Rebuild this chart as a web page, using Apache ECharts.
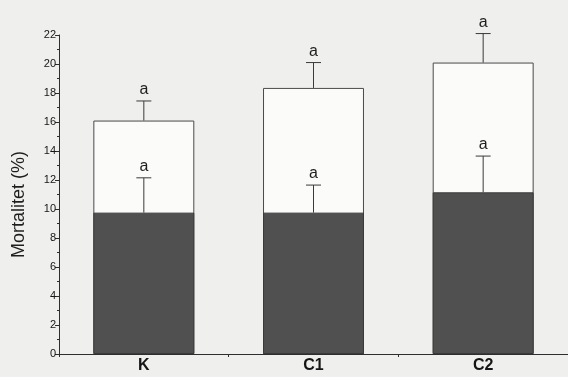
<!DOCTYPE html>
<html>
<head>
<meta charset="utf-8">
<script src="https://cdn.jsdelivr.net/npm/echarts@6/dist/echarts.min.js"></script>
<style>
  html, body { margin: 0; padding: 0; background: #efefed; }
  #chart { width: 568px; height: 377px; }
</style>
</head>
<body>
<div id="chart"></div>
<script>
// Groups along the x axis
const categories = ['K', 'C1', 'C2'];
// Total mortality (white bars) and its upper error limit
const totalMean = [16.1, 18.35, 20.1];
const totalUpper = [17.45, 20.1, 22.1];
// Mortality part shown dark, and its upper error limit
const darkMean = [9.75, 9.75, 11.15];
const darkUpper = [12.15, 11.65, 13.65];
// Significance letters above each error bar
const totalLetters = ['a', 'a', 'a'];
const darkLetters = ['a', 'a', 'a'];
// Y axis ticks
const yMin = 0, yMax = 22, yStep = 2;

const chart = echarts.init(document.getElementById('chart'), null, { renderer: 'canvas' });

function errorSeries(means, uppers, letters) {
  return {
    type: 'custom',
    z: 10,
    data: means.map((m, i) => [i, m, uppers[i], letters[i]]),
    renderItem: function (params, api) {
      const base = api.coord([api.value(0), api.value(1)]);
      const top = api.coord([api.value(0), api.value(2)]);
      const half = 7.5;
      const style = { stroke: '#3a3a3a', lineWidth: 1 };
      return {
        type: 'group',
        children: [
          { type: 'line', shape: { x1: base[0], y1: base[1], x2: top[0], y2: top[1] }, style: style },
          { type: 'line', shape: { x1: top[0] - half, y1: top[1], x2: top[0] + half, y2: top[1] }, style: style },
          {
            type: 'text',
            style: {
              text: letters[params.dataIndex],
              x: top[0], y: top[1] - 3,
              align: 'center', verticalAlign: 'bottom',
              font: '16px "Liberation Sans", Arial, sans-serif',
              fill: '#1e1e1e'
            }
          }
        ]
      };
    }
  };
}

chart.setOption({
  animation: false,
  backgroundColor: '#efefed',
  grid: { left: 59, right: -6, top: 35, bottom: 23 },
  xAxis: {
    type: 'category',
    data: categories,
    axisLine: { lineStyle: { color: '#2e2e2e', width: 1 } },
    axisTick: { show: true, length: 3, inside: false, lineStyle: { color: '#2e2e2e' } },
    axisLabel: {
      color: '#151515', fontSize: 16, fontWeight: 'bold',
      fontFamily: '"Liberation Sans", Arial, sans-serif', margin: 4
    },
    splitLine: { show: false }
  },
  yAxis: {
    type: 'value',
    min: yMin, max: yMax, interval: yStep,
    name: 'Mortalitet (%)',
    nameLocation: 'middle',
    nameGap: 31,
    nameTextStyle: {
      color: '#1e1e1e', fontSize: 18,
      fontFamily: '"Liberation Sans", Arial, sans-serif',
      padding: [0, 20, 0, 0]
    },
    axisLine: { show: true, lineStyle: { color: '#2e2e2e', width: 1 } },
    axisTick: { show: true, length: 4, lineStyle: { color: '#2e2e2e' } },
    minorTick: { show: true, splitNumber: 2, length: 2, lineStyle: { color: '#2e2e2e' } },
    axisLabel: {
      color: '#151515', fontSize: 11, margin: 3,
      fontFamily: '"Liberation Sans", Arial, sans-serif'
    },
    splitLine: { show: false }
  },
  series: [
    {
      type: 'bar',
      data: totalMean,
      barWidth: '59.5%',
      itemStyle: { color: '#fbfbfa', borderColor: '#4a4a4a', borderWidth: 1 },
      z: 2
    },
    {
      type: 'bar',
      data: darkMean,
      barWidth: '59.5%',
      barGap: '-100%',
      itemStyle: { color: '#505050', borderColor: '#3a3a3a', borderWidth: 1 },
      z: 3
    },
    errorSeries(totalMean, totalUpper, totalLetters),
    errorSeries(darkMean, darkUpper, darkLetters)
  ]
});
</script>
</body>
</html>
